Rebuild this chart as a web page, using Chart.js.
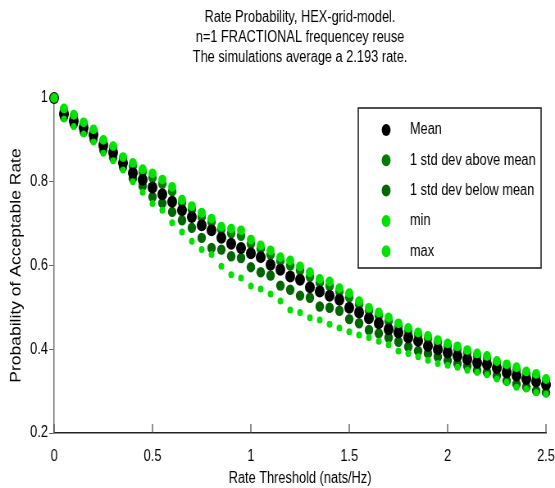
<!DOCTYPE html>
<html>
<head>
<meta charset="utf-8">
<script src="https://cdn.jsdelivr.net/npm/chart.js@4.4.1/dist/chart.umd.min.js"></script>
<style>
  html, body { margin: 0; padding: 0; background: #fff; overflow: hidden; }
  /* the original figure is squeezed horizontally; draw wide, then squeeze */
  #wrap { width: 677px; height: 488px; transform: scaleX(0.8198); transform-origin: 0 0; }
</style>
</head>
<body>
<div id="wrap"><canvas id="rateChart" width="677" height="488"></canvas></div>
<script>
// Chart text
const titleLines = [
    'Rate Probability, HEX-grid-model.',
    'n=1 FRACTIONAL frequencey reuse',
    'The simulations average a 2.193 rate.'
];
const xAxisTitle = 'Rate Threshold (nats/Hz)';
const yAxisTitle = 'Probability of Acceptable Rate';
const seriesNames = ['Mean', '1 std dev above mean', '1 std dev below mean', 'min', 'max'];

// x values (rate threshold, nats/Hz)
const rateThreshold = [
    0.00, 0.05, 0.10, 0.15, 0.20, 0.25, 0.30, 0.35, 0.40, 0.45,
    0.50, 0.55, 0.60, 0.65, 0.70, 0.75, 0.80, 0.85, 0.90, 0.95,
    1.00, 1.05, 1.10, 1.15, 1.20, 1.25, 1.30, 1.35, 1.40, 1.45,
    1.50, 1.55, 1.60, 1.65, 1.70, 1.75, 1.80, 1.85, 1.90, 1.95,
    2.00, 2.05, 2.10, 2.15, 2.20, 2.25, 2.30, 2.35, 2.40, 2.45,
    2.50
];

// probability of acceptable rate
const meanProb = [
    1.000, 0.962, 0.945, 0.929, 0.912, 0.887, 0.870, 0.845, 0.821, 0.805,
    0.786, 0.770, 0.752, 0.732, 0.716, 0.696, 0.684, 0.666, 0.652, 0.642,
    0.629, 0.620, 0.602, 0.590, 0.574, 0.566, 0.548, 0.538, 0.528, 0.518,
    0.499, 0.488, 0.474, 0.462, 0.448, 0.440, 0.428, 0.420, 0.408, 0.400,
    0.392, 0.384, 0.376, 0.368, 0.364, 0.355, 0.345, 0.337, 0.329, 0.323,
    0.315
];
const stdAboveProb = [
    1.000, 0.971, 0.956, 0.938, 0.921, 0.896, 0.881, 0.855, 0.838, 0.823,
    0.810, 0.795, 0.777, 0.750, 0.734, 0.716, 0.704, 0.686, 0.677, 0.671,
    0.652, 0.640, 0.626, 0.611, 0.600, 0.588, 0.573, 0.559, 0.551, 0.538,
    0.524, 0.507, 0.492, 0.480, 0.467, 0.455, 0.444, 0.434, 0.425, 0.416,
    0.408, 0.400, 0.392, 0.384, 0.378, 0.367, 0.358, 0.351, 0.342, 0.336,
    0.325
];
const stdBelowProb = [
    1.000, 0.955, 0.938, 0.920, 0.902, 0.876, 0.858, 0.835, 0.808, 0.790,
    0.764, 0.749, 0.728, 0.708, 0.690, 0.666, 0.642, 0.638, 0.622, 0.618,
    0.596, 0.584, 0.576, 0.552, 0.542, 0.528, 0.523, 0.502, 0.499, 0.492,
    0.472, 0.462, 0.446, 0.438, 0.428, 0.418, 0.406, 0.396, 0.390, 0.382,
    0.373, 0.366, 0.360, 0.350, 0.345, 0.337, 0.325, 0.317, 0.310, 0.301,
    0.297
];
const minProb = [
    1.000, 0.950, 0.932, 0.914, 0.895, 0.868, 0.850, 0.828, 0.800, 0.775,
    0.748, 0.732, 0.702, 0.680, 0.658, 0.638, 0.626, 0.598, 0.578, 0.570,
    0.551, 0.544, 0.532, 0.515, 0.494, 0.488, 0.475, 0.470, 0.460, 0.451,
    0.442, 0.434, 0.428, 0.419, 0.411, 0.396, 0.390, 0.382, 0.374, 0.366,
    0.362, 0.357, 0.350, 0.345, 0.339, 0.329, 0.321, 0.309, 0.305, 0.297,
    0.293
];
const maxProb = [
    1.000, 0.975, 0.960, 0.942, 0.925, 0.900, 0.885, 0.859, 0.845, 0.830,
    0.820, 0.805, 0.788, 0.757, 0.742, 0.726, 0.712, 0.693, 0.688, 0.684,
    0.662, 0.648, 0.636, 0.620, 0.612, 0.598, 0.584, 0.568, 0.562, 0.546,
    0.534, 0.515, 0.499, 0.488, 0.476, 0.462, 0.451, 0.440, 0.432, 0.422,
    0.414, 0.407, 0.398, 0.390, 0.384, 0.372, 0.364, 0.357, 0.347, 0.341,
    0.329
];

const seriesColors = ['#000000', '#007c00', '#006600', '#00e000', '#00e200'];
const markerRadius = [6, 5.2, 5.2, 3.5, 4.9];
// Chart.js: lower order is drawn last (on top); max/min over mean, mean over the std dev dots
const drawOrder = [2, 4, 3, 1, 0];

const textFamily = "'Liberation Sans', Arial, sans-serif";
const textSize = 15.6;
const axisFont = { family: textFamily, size: textSize };

const seriesValues = [meanProb, stdAboveProb, stdBelowProb, minProb, maxProb];

const datasets = seriesValues.map((vals, i) => ({
    label: seriesNames[i],
    data: rateThreshold.map((x, j) => ({ x: x, y: vals[j] })),
    showLine: false,
    pointStyle: 'circle',
    pointRadius: markerRadius[i],
    pointBorderWidth: 0,
    backgroundColor: seriesColors[i],
    borderColor: seriesColors[i],
    order: drawOrder[i],
    clip: false
}));

// drop trailing zeros, like "1" and "0.5"
const tickText = v => String(Number(v.toFixed(2)));

// title, inward x ticks and the boxed legend
const figureExtras = {
    id: 'figureExtras',
    afterDraw(chart) {
        const { ctx, chartArea } = chart;
        const xScale = chart.scales.x;
        ctx.save();

        // title
        ctx.fillStyle = '#000';
        ctx.font = textSize + 'px ' + textFamily;
        ctx.textAlign = 'center';
        ctx.textBaseline = 'middle';
        const cx = (chartArea.left + chartArea.right) / 2;
        titleLines.forEach((line, i) => ctx.fillText(line, cx, 17.5 + i * 20));

        // x ticks point inward
        ctx.strokeStyle = '#444';
        ctx.lineWidth = 1.2;
        xScale.ticks.forEach(t => {
            const px = xScale.getPixelForValue(t.value);
            ctx.beginPath();
            ctx.moveTo(px, chartArea.bottom);
            ctx.lineTo(px, chartArea.bottom - 9);
            ctx.stroke();
        });

        // legend box
        const boxW = 223, boxH = 160;
        const bx = chartArea.right - 6 - boxW;
        const by = chartArea.top + 10;
        ctx.fillStyle = '#fff';
        ctx.fillRect(bx, by, boxW, boxH);
        ctx.strokeStyle = '#222';
        ctx.lineWidth = 1.6;
        ctx.strokeRect(bx, by, boxW, boxH);
        ctx.textAlign = 'left';
        seriesNames.forEach((name, i) => {
            const rowY = by + 22 + i * 30.3;
            ctx.fillStyle = seriesColors[i];
            ctx.beginPath();
            ctx.ellipse(bx + 34, rowY, 5.4, 6, 0, 0, Math.PI * 2);
            ctx.fill();
            ctx.fillStyle = '#000';
            ctx.fillText(name, bx + 63, rowY);
        });
        ctx.restore();
    }
};

new Chart(document.getElementById('rateChart'), {
    type: 'scatter',
    data: { datasets: datasets },
    options: {
        responsive: false,
        animation: false,
        devicePixelRatio: 1,
        layout: { padding: { top: 98, right: 11, left: 0, bottom: 0 } },
        plugins: {
            legend: { display: false },
            title: { display: false },
            tooltip: { enabled: false }
        },
        scales: {
            x: {
                type: 'linear',
                min: 0,
                max: 2.5,
                ticks: { stepSize: 0.5, color: '#000', font: axisFont, padding: 14, callback: tickText },
                grid: { display: false, drawTicks: false },
                border: { display: true, color: '#222', width: 1.4 },
                title: {
                    display: true,
                    text: xAxisTitle,
                    color: '#000',
                    font: axisFont,
                    padding: { top: 0, bottom: 0 }
                },
                afterFit(scale) {
                    scale.height = 55;
                    scale.paddingLeft = 0;
                    scale.paddingRight = 0;
                }
            },
            y: {
                min: 0.2,
                max: 1,
                ticks: { stepSize: 0.2, color: '#000', font: axisFont, padding: 1.5, callback: tickText },
                grid: { drawOnChartArea: false, drawTicks: true, tickLength: 6, color: '#666' },
                border: { display: true, color: '#777', width: 1.5 },
                title: {
                    display: true,
                    text: yAxisTitle,
                    color: '#000',
                    font: { family: textFamily, size: 17.5 },
                    padding: { top: 10, bottom: 0 }
                },
                afterFit(scale) { scale.width = 66; }
            }
        }
    },
    plugins: [figureExtras]
});
</script>
</body>
</html>
